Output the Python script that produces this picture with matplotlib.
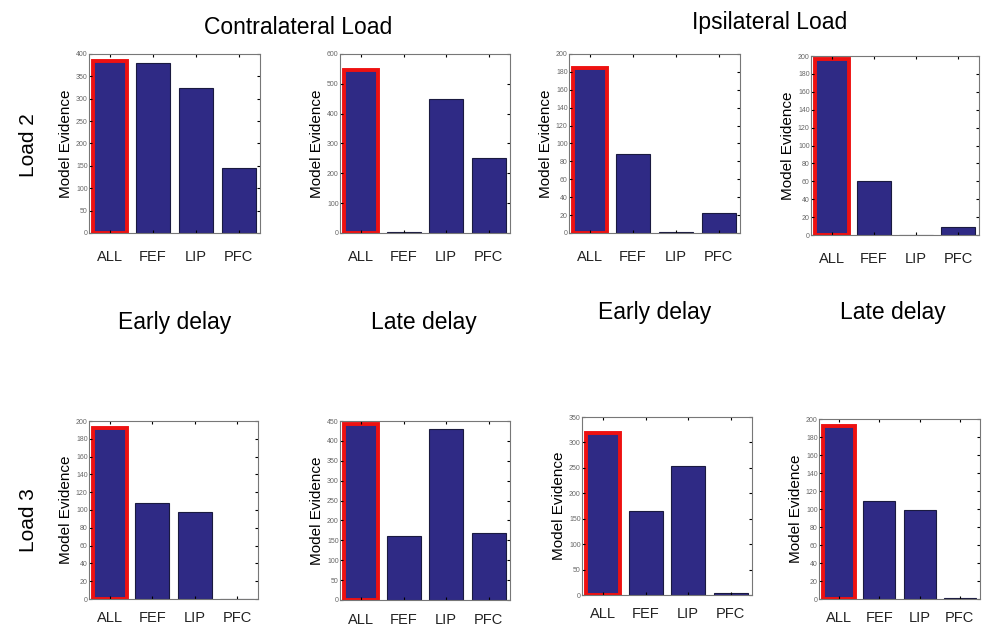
import matplotlib
matplotlib.use("Agg")
import matplotlib.pyplot as plt
import numpy as np

plt.rcParams['font.family'] = ['Liberation Sans', 'DejaVu Sans']

regions = ["ALL", "FEF", "LIP", "PFC"]

# Load 2 (top row): contralateral early/late, ipsilateral early/late
load2_contra_early = [385, 381, 324, 146]
load2_contra_late = [545, 3, 448, 251]
load2_ipsi_early = [184, 88, 1, 22]
load2_ipsi_late = [197, 60, 0, 9]

# Load 3 (bottom row)
load3_contra_early = [192, 108, 98, 0]
load3_contra_late = [443, 162, 429, 168]
load3_ipsi_early = [318, 166, 253, 3]
load3_ipsi_late = [192, 109, 99, 1]

ymax = [400, 600, 200, 200, 200, 450, 350, 200]
ystep = [50, 100, 20, 20, 20, 50, 50, 20]

all_data = [load2_contra_early, load2_contra_late, load2_ipsi_early, load2_ipsi_late,
            load3_contra_early, load3_contra_late, load3_ipsi_early, load3_ipsi_late]

W, H = 984, 631
# axes boxes in pixels: left, top, right, bottom
boxes = [(89, 54, 260, 233), (340, 54, 510, 233), (569, 54, 740, 233), (811, 56, 979, 235),
         (89, 421, 258, 599), (340, 421, 510, 600), (582, 417, 752, 595), (819, 419, 980, 599)]
xpads = [12, 12, 12, 12, 9, 9, 9, 9]

bar_color = '#2f2a85'

fig = plt.figure(figsize=(W / 100, H / 100), dpi=100)

for vals, (l, t, r, b), ym, st, xp in zip(all_data, boxes, ymax, ystep, xpads):
    ax = fig.add_axes([l / W, 1 - b / H, (r - l) / W, (b - t) / H])
    x = np.arange(1, 5)
    ax.bar(x, vals, width=0.8, color=bar_color, edgecolor='#1a1a40', linewidth=0.8)
    # highlight the winning model
    ax.bar(x[0], vals[0], width=0.8, color=bar_color, edgecolor='#ee1111', linewidth=2.8)
    ax.set_xlim(0.5, 4.5)
    ax.set_ylim(0, ym)
    ax.set_yticks(np.arange(0, ym + 1, st))
    ax.set_xticks(x)
    ax.set_xticklabels(regions, fontsize=10.5, color='#222222')
    ax.tick_params(axis='y', labelsize=5, labelcolor='#666666', length=2, direction='in',
                   right=True, pad=1)
    ax.tick_params(axis='x', length=2, direction='in', top=True, pad=xp)
    ax.set_ylabel('Model Evidence', fontsize=11, labelpad=2)
    for s in ax.spines.values():
        s.set_color('#777777')
        s.set_linewidth(0.8)

# column titles
fig.text(298 / W, 1 - 27 / H, 'Contralateral Load', fontsize=16.5, ha='center', va='center')
fig.text(770 / W, 1 - 22 / H, 'Ipsilateral Load', fontsize=16.5, ha='center', va='center')
fig.text(175 / W, 1 - 322 / H, 'Early delay', fontsize=16.5, ha='center', va='center')
fig.text(424 / W, 1 - 322 / H, 'Late delay', fontsize=16.5, ha='center', va='center')
fig.text(655 / W, 1 - 313 / H, 'Early delay', fontsize=16.5, ha='center', va='center')
fig.text(893 / W, 1 - 313 / H, 'Late delay', fontsize=16.5, ha='center', va='center')

# row labels
fig.text(28 / W, 1 - 145 / H, 'Load 2', fontsize=15, rotation=90, ha='center', va='center')
fig.text(28 / W, 1 - 520 / H, 'Load 3', fontsize=15, rotation=90, ha='center', va='center')

fig.savefig('out.png', dpi=100)
